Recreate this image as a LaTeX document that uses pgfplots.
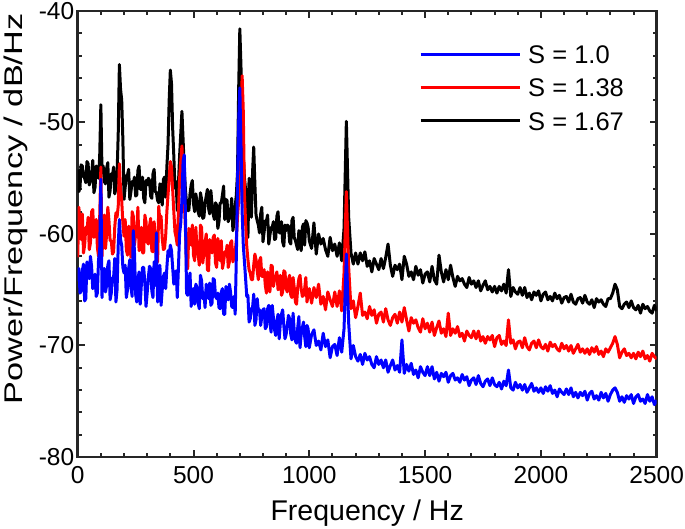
\documentclass[border=0pt]{standalone}
\usepackage{fontspec}
\setmainfont{Liberation Sans}
\usepackage{graphicx}
\usepackage{pgfplots}
\pgfplotsset{compat=1.18}
\usepackage{pgfplotstable}
\pgfplotstableread{
f b r k
0 -64.2 -62.1 -54.2
5 -63.1 -57.6 -56.2
10 -65.3 -59.1 -55.8
15 -65.1 -60.5 -53.8
20 -63.3 -58.2 -53.9
25 -62.7 -61.7 -54.8
30 -66.0 -61.0 -55.0
35 -65.8 -59.4 -55.4
40 -62.5 -59.8 -53.5
45 -63.8 -58.5 -53.7
50 -64.0 -61.4 -55.6
55 -62.0 -60.8 -55.3
60 -62.9 -58.0 -54.7
65 -64.9 -57.8 -53.4
70 -64.7 -60.3 -56.3
75 -63.6 -60.1 -55.8
80 -65.6 -58.7 -53.9
85 -65.3 -61.2 -54.5
90 -62.3 -62.0 -55.0
95 -61.5 -58.5 -53.0
100 -55.1 -54.0 -48.4
105 -65.7 -62.0 -54.5
110 -63.2 -59.0 -53.9
115 -63.1 -58.3 -55.3
120 -65.2 -61.3 -55.5
125 -64.6 -60.0 -54.1
130 -62.8 -57.6 -53.6
135 -62.4 -58.8 -56.7
140 -65.9 -60.6 -56.1
145 -65.3 -60.6 -54.6
150 -63.9 -61.8 -54.8
155 -63.9 -61.6 -54.0
160 -62.2 -59.4 -56.4
165 -66.1 -58.1 -55.9
170 -65.0 -58.5 -54.6
175 -61.0 -57.5 -51.0
180 -58.7 -53.7 -44.8
185 -60.5 -56.0 -47.0
190 -61.0 -57.0 -48.0
195 -63.0 -59.0 -51.5
200 -63.5 -60.2 -56.9
205 -62.8 -58.7 -55.8
210 -65.7 -61.4 -54.8
215 -65.0 -61.9 -54.7
220 -63.1 -59.3 -54.2
225 -62.3 -59.9 -56.9
230 -64.7 -62.1 -56.2
235 -65.6 -58.0 -55.3
240 -59.7 -58.4 -55.5
245 -61.5 -61.0 -54.9
250 -65.4 -60.1 -56.6
255 -66.1 -59.6 -56.5
260 -64.1 -57.6 -54.3
265 -63.4 -61.5 -53.9
270 -66.3 -60.8 -56.0
275 -64.5 -59.4 -56.0
280 -63.0 -61.7 -54.9
285 -63.0 -61.7 -56.8
290 -64.4 -58.3 -57.2
295 -66.5 -58.9 -55.2
300 -65.3 -60.7 -55.6
305 -63.9 -60.9 -55.0
310 -62.9 -59.3 -55.2
315 -63.1 -58.6 -56.6
320 -65.1 -61.5 -56.8
325 -65.7 -61.6 -54.6
330 -62.5 -58.9 -54.2
335 -64.6 -60.2 -56.2
340 -59.9 -62.1 -56.3
345 -66.1 -62.5 -57.0
350 -64.2 -57.5 -57.2
355 -62.8 -59.0 -55.5
360 -66.4 -58.4 -55.7
365 -65.0 -60.4 -57.4
370 -63.8 -61.4 -55.1
375 -63.5 -61.3 -54.9
380 -64.9 -60.1 -56.7
385 -63.0 -58.0 -54.0
390 -61.5 -56.5 -52.0
395 -62.0 -55.0 -48.0
400 -61.0 -53.5 -45.3
405 -61.5 -54.0 -46.5
410 -63.0 -56.0 -50.5
415 -64.5 -58.0 -53.0
420 -63.8 -59.8 -55.9
425 -63.3 -60.3 -55.3
430 -65.7 -61.0 -57.9
435 -63.0 -58.0 -55.5
440 -60.0 -55.0 -53.0
445 -59.0 -53.5 -51.0
450 -57.0 -52.1 -49.0
455 -53.5 -54.5 -51.5
460 -52.9 -57.0 -54.0
465 -58.0 -59.5 -56.0
470 -65.3 -63.0 -57.2
475 -65.5 -63.1 -57.9
480 -64.2 -59.5 -57.9
485 -63.5 -60.1 -56.4
490 -66.5 -61.0 -55.6
495 -65.1 -59.2 -55.2
500 -64.9 -61.9 -57.3
505 -66.3 -62.4 -58.0
510 -64.5 -59.4 -56.4
515 -64.8 -61.2 -57.1
520 -66.2 -61.8 -58.0
525 -66.7 -62.8 -58.4
530 -63.7 -59.2 -56.3
535 -64.2 -59.4 -56.9
540 -65.8 -62.6 -58.6
545 -65.3 -61.7 -58.5
550 -66.6 -60.8 -57.2
555 -64.5 -60.0 -56.6
560 -65.1 -63.2 -56.0
565 -65.8 -63.3 -57.7
570 -64.4 -60.5 -58.2
575 -66.4 -61.0 -56.1
580 -66.2 -61.7 -57.4
585 -64.0 -60.3 -58.2
590 -64.1 -60.1 -58.7
595 -65.6 -62.6 -57.2
600 -65.8 -63.0 -57.4
605 -65.3 -60.4 -59.5
610 -66.6 -61.1 -58.9
615 -66.7 -62.4 -57.2
620 -65.2 -60.6 -57.2
625 -64.9 -63.1 -56.5
630 -67.2 -62.5 -55.7
635 -67.2 -61.6 -58.7
640 -64.7 -61.9 -56.9
645 -65.7 -61.0 -57.0
650 -65.9 -63.0 -58.9
655 -64.5 -62.5 -58.5
660 -65.2 -60.8 -58.1
665 -66.5 -60.6 -56.8
670 -66.6 -62.5 -59.7
675 -65.6 -62.1 -59.0
680 -67.2 -61.6 -57.5
685 -62.0 -60.5 -56.5
690 -55.5 -58.5 -54.5
695 -50.0 -57.0 -47.0
700 -46.9 -55.5 -41.6
705 -52.0 -50.0 -45.0
710 -58.0 -45.8 -50.0
715 -61.0 -49.0 -53.0
720 -62.5 -56.5 -55.0
725 -64.0 -59.0 -56.0
730 -65.6 -61.1 -57.3
735 -65.5 -62.3 -60.3
740 -67.9 -63.2 -55.0
745 -67.6 -63.5 -56.5
750 -66.7 -64.1 -58.5
755 -66.6 -64.1 -54.5
760 -65.4 -62.8 -52.2
765 -68.2 -61.8 -55.5
770 -67.7 -62.3 -58.3
775 -65.8 -63.3 -58.8
780 -66.9 -64.1 -59.2
785 -66.8 -62.4 -59.9
790 -68.2 -62.1 -58.2
795 -67.4 -63.8 -57.6
800 -66.8 -63.8 -60.7
805 -66.7 -63.2 -59.8
810 -68.5 -64.6 -58.8
815 -68.3 -65.3 -58.8
820 -66.7 -63.4 -58.3
825 -66.4 -64.0 -60.9
830 -67.9 -65.2 -60.1
835 -68.8 -62.8 -59.4
840 -66.4 -62.9 -59.4
845 -67.5 -64.7 -58.9
850 -68.6 -64.1 -60.5
855 -69.1 -63.8 -60.4
860 -67.8 -63.4 -58.4
865 -67.2 -65.0 -58.0
870 -69.4 -64.7 -59.9
875 -68.0 -63.7 -59.9
880 -67.2 -65.5 -58.9
885 -66.8 -65.2 -60.7
890 -68.2 -63.3 -61.1
895 -69.4 -63.4 -59.2
900 -69.0 -64.9 -59.7
905 -68.2 -65.2 -59.2
910 -67.3 -64.1 -59.3
915 -67.6 -63.7 -60.7
920 -69.0 -65.5 -60.9
925 -69.5 -65.7 -58.8
930 -67.1 -63.9 -58.5
935 -68.7 -64.8 -60.3
940 -69.6 -66.1 -60.6
945 -69.8 -66.3 -61.0
950 -68.4 -64.8 -61.4
955 -67.4 -64.0 -59.7
960 -70.2 -63.7 -59.9
965 -69.0 -64.9 -61.5
970 -68.4 -65.6 -59.4
975 -67.9 -65.5 -59.1
980 -69.2 -64.9 -61.0
985 -70.1 -63.9 -58.8
990 -68.2 -66.1 -59.0
995 -68.5 -65.4 -59.4
1000 -70.2 -64.9 -60.6
1010 -69.0 -66.2 -61.3
1020 -68.6 -64.8 -59.0
1030 -70.0 -65.7 -61.8
1040 -69.6 -64.5 -60.0
1050 -70.4 -66.3 -60.9
1060 -68.9 -65.6 -60.4
1070 -70.1 -66.8 -61.4
1080 -69.5 -65.2 -62.0
1090 -71.1 -65.9 -60.3
1100 -70.1 -66.5 -61.5
1110 -69.9 -65.2 -60.9
1120 -70.9 -66.5 -62.0
1130 -69.3 -65.1 -60.8
1140 -70.6 -66.9 -62.4
1150 -68.5 -63.5 -59.5
1160 -61.8 -56.2 -49.9
1170 -68.0 -63.0 -58.5
1180 -71.2 -66.7 -61.7
1190 -70.0 -66.0 -62.7
1200 -71.0 -67.5 -61.7
1210 -71.4 -66.5 -62.7
1220 -70.8 -65.3 -61.7
1230 -71.7 -67.3 -62.4
1240 -70.7 -67.0 -61.6
1250 -71.3 -67.6 -62.9
1260 -71.0 -66.5 -62.4
1270 -71.7 -67.3 -63.4
1280 -72.0 -66.8 -62.2
1290 -71.0 -68.0 -62.7
1300 -71.7 -67.2 -63.2
1310 -71.3 -67.0 -62.2
1320 -72.0 -67.9 -63.1
1330 -71.3 -66.7 -62.1
1340 -72.4 -67.7 -60.9
1350 -71.8 -68.2 -62.8
1360 -71.3 -67.5 -63.8
1370 -72.2 -67.2 -62.8
1380 -71.8 -68.0 -63.2
1390 -72.4 -67.0 -62.7
1400 -69.5 -67.9 -64.1
1410 -72.5 -66.6 -62.0
1420 -71.7 -67.7 -62.7
1430 -72.3 -68.7 -63.8
1440 -71.6 -67.5 -63.4
1450 -72.6 -68.0 -64.1
1460 -72.2 -67.7 -62.9
1470 -72.9 -68.4 -63.7
1480 -71.9 -68.8 -63.2
1490 -72.4 -67.6 -64.4
1500 -72.7 -68.5 -63.6
1510 -71.9 -68.0 -63.4
1520 -72.7 -68.8 -64.3
1530 -71.9 -67.9 -62.9
1540 -73.0 -69.1 -64.1
1550 -72.4 -68.4 -64.5
1560 -73.2 -67.8 -61.9
1570 -72.5 -68.9 -63.4
1580 -72.8 -68.5 -64.3
1590 -72.4 -69.2 -63.2
1600 -73.3 -67.1 -64.1
1610 -72.7 -69.1 -62.8
1620 -72.5 -68.5 -63.9
1630 -73.1 -68.9 -64.7
1640 -72.9 -68.3 -63.8
1650 -73.3 -69.2 -64.2
1660 -72.6 -68.9 -64.0
1670 -73.1 -69.6 -64.5
1680 -72.8 -68.7 -64.8
1690 -73.6 -69.1 -63.9
1700 -73.1 -69.3 -64.5
1710 -72.9 -68.7 -64.2
1720 -73.5 -69.4 -64.8
1730 -72.7 -68.7 -64.2
1740 -73.4 -69.6 -65.1
1750 -73.7 -69.2 -64.6
1760 -73.2 -69.8 -64.2
1770 -73.0 -69.2 -65.0
1780 -73.6 -69.5 -64.7
1790 -72.9 -69.1 -65.2
1800 -73.5 -70.1 -64.7
1810 -73.7 -69.3 -65.3
1820 -73.3 -69.1 -64.7
1830 -73.9 -69.9 -65.1
1840 -73.2 -69.6 -64.5
1850 -73.6 -70.0 -65.3
1860 -72.2 -67.7 -63.2
1870 -73.8 -69.8 -65.6
1880 -74.0 -69.5 -64.8
1890 -73.3 -70.3 -65.2
1900 -73.8 -69.7 -65.4
1910 -73.5 -69.6 -64.8
1920 -74.0 -70.2 -65.5
1930 -73.5 -69.3 -64.8
1940 -74.2 -70.1 -65.7
1950 -73.8 -70.4 -65.3
1960 -73.4 -69.8 -65.9
1970 -74.1 -69.6 -65.2
1980 -73.8 -70.2 -65.5
1990 -74.2 -69.5 -65.1
2000 -73.8 -70.1 -66.0
2010 -74.3 -70.3 -65.4
2020 -73.7 -69.9 -65.2
2030 -74.1 -70.5 -65.9
2040 -73.6 -69.7 -65.6
2050 -74.3 -70.1 -66.0
2060 -74.0 -69.9 -65.3
2070 -74.6 -70.3 -65.8
2080 -73.9 -70.5 -65.5
2090 -74.2 -69.8 -66.2
2100 -74.4 -70.3 -65.7
2110 -73.9 -70.0 -65.6
2120 -74.4 -70.5 -66.1
2130 -73.8 -70.0 -65.4
2140 -74.6 -70.7 -66.1
2150 -74.2 -70.3 -66.3
2160 -74.7 -69.9 -65.8
2170 -74.2 -70.6 -65.7
2180 -74.5 -70.3 -66.2
2190 -74.1 -70.7 -65.5
2200 -74.9 -70.3 -66.1
2210 -74.3 -70.8 -66.3
2220 -74.1 -70.2 -65.9
2230 -74.8 -70.6 -66.6
2240 -74.5 -70.1 -65.8
2250 -74.9 -70.8 -66.1
2260 -74.2 -70.5 -65.9
2270 -74.7 -71.0 -66.3
2280 -74.3 -70.3 -66.5
2290 -75.0 -70.6 -65.8
2300 -74.4 -70.2 -65.8
2310 -74.0 -69.8 -65.3
2320 -73.8 -69.2 -64.5
2330 -74.2 -69.9 -65.0
2340 -75.0 -71.1 -66.5
2350 -74.6 -70.6 -66.7
2360 -75.1 -70.3 -66.3
2370 -74.5 -70.9 -66.1
2380 -74.8 -70.7 -66.6
2390 -74.4 -71.1 -66.0
2400 -75.2 -70.7 -66.6
2410 -74.6 -71.2 -66.8
2420 -74.4 -70.6 -66.4
2430 -75.0 -71.0 -67.1
2440 -74.8 -70.5 -66.3
2450 -75.2 -71.2 -66.7
2460 -74.4 -70.9 -66.5
2470 -75.0 -71.4 -66.9
2480 -74.6 -70.7 -67.1
2490 -75.3 -71.0 -66.4
2500 -74.9 -71.2 -66.9
}\spectra

\begin{document}
\begin{tikzpicture}
\begin{axis}[
  at={(0,0)}, anchor=south west,
  width=579pt, height=446pt, scale only axis,
  xmin=0, xmax=2500, ymin=-80, ymax=-40,
  xtick={0,500,1000,1500,2000,2500},
  xticklabels={0,500,1000,1500,2000,2500},
  ytick={-80,-70,-60,-50,-40},
  yticklabels={-80,-70,-60,-50,-40},
  minor x tick num=4, minor y tick num=4,
  tick align=inside,
  major tick length=7pt, minor tick length=4pt,
  tick style={line width=2pt, draw=black!85},
  axis line style={line width=2.6pt, draw=black!85},
  ticklabel style={font=\fontsize{24.5}{28}\selectfont},
  xticklabel style={yshift=-6pt},
  xlabel={Frequency / Hz},
  ylabel={\scalebox{1.34}[1]{Power/Frequency / dB/Hz}},
  xlabel style={font=\fontsize{28.5}{32}\selectfont, at={(axis description cs:0.5,-0.1413)}, anchor=base},
  ylabel style={font=\fontsize{25.6}{30}\selectfont, at={(axis description cs:-0.0945,0.556)}, anchor=base},
  legend style={draw=none, fill=none, at={(axis description cs:0.5895,0.9238)}, anchor=north west,
    inner sep=0pt, font=\fontsize{25.5}{30}\selectfont, row sep=15pt,
    nodes={inner sep=0pt, text height=18.3pt, text depth=0pt}},
  legend image code/.code={\draw[#1, line width=3pt] (0pt,0pt) -- (99pt,0pt);},
  legend cell align=left,
  reverse legend,
  /tikz/every odd column/.append style={column sep=7pt},
]
\addplot[black, line width=3pt, line join=round] table[x=f, y=k] {\spectra};
\addlegendentry{S = 1.67}
\addplot[red, line width=3pt, line join=round] table[x=f, y=r] {\spectra};
\addlegendentry{S = 1.38}
\addplot[blue, line width=3pt, line join=round] table[x=f, y=b] {\spectra};
\addlegendentry{S = 1.0}
\end{axis}
\pgfresetboundingbox
\path[use as bounding box] (-77.7pt,-72pt) rectangle (607.3pt,457pt);
\end{tikzpicture}
\end{document}
